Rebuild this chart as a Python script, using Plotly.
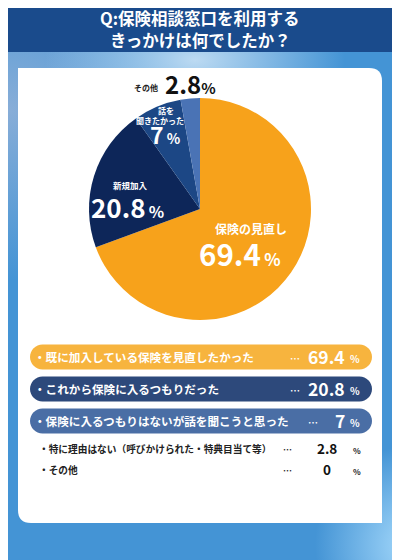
import base64
import plotly.graph_objects as go

W, H = 400, 560
OFF = 8  # page body margin; content is laid out in reference pixels
FONT = "Noto Sans CJK JP"

# --- data ---
title_lines = ["Q:保険相談窓口を利用する", "きっかけは何でしたか？"]

pie_labels = ["保険の見直し", "新規加入", "話を聞きたかった", "その他"]
pie_values = [69.4, 20.8, 7, 2.8]
pie_colors = ["#F7A21B", "#0D2659", "#1C4785", "#4A73B5"]

reasons = [
    "・既に加入している保険を見直したかった",
    "・これから保険に入るつもりだった",
    "・保険に入るつもりはないが話を聞こうと思った",
    "・特に理由はない（呼びかけられた・特典目当て等）",
    "・その他",
]
reason_values = [69.4, 20.8, 7, 2.8, 0]
pill_colors = ["#F7B43E", "#2D497B", "#4A6EA5"]


def fmt(v):
    return f"{v:g}"


# background gradient as a small inline svg
bg_svg = f"""<svg xmlns="http://www.w3.org/2000/svg" width="{W}" height="{H}" viewBox="{OFF} {OFF} {W} {H}" preserveAspectRatio="none">
<defs>
<radialGradient id="a" cx="195" cy="60" r="150" gradientUnits="userSpaceOnUse"
 gradientTransform="translate(195 60) scale(1 0.5) translate(-195 -60)">
<stop offset="0" stop-color="#bcdaf2"/><stop offset="1" stop-color="#bcdaf2" stop-opacity="0"/></radialGradient>
<radialGradient id="l" cx="10" cy="110" r="170" gradientUnits="userSpaceOnUse">
<stop offset="0" stop-color="#8fb0d8" stop-opacity="0.9"/><stop offset="1" stop-color="#8fb0d8" stop-opacity="0"/></radialGradient>
<radialGradient id="c" cx="415" cy="545" r="100" gradientUnits="userSpaceOnUse">
<stop offset="0" stop-color="#a9dcfd"/><stop offset="1" stop-color="#a9dcfd" stop-opacity="0"/></radialGradient>
</defs>
<rect x="0" y="0" width="{W + 2 * OFF}" height="{H + 2 * OFF}" fill="#4494d5"/>
<rect x="0" y="0" width="{W + 2 * OFF}" height="{H + 2 * OFF}" fill="url(#l)"/>
<rect x="0" y="0" width="{W + 2 * OFF}" height="{H + 2 * OFF}" fill="url(#a)"/>
<rect x="0" y="0" width="{W + 2 * OFF}" height="{H + 2 * OFF}" fill="url(#c)"/>
</svg>"""
bg_uri = "data:image/svg+xml;base64," + base64.b64encode(bg_svg.encode()).decode()


def pill(x0, x1, yc, h):
    r = h / 2
    k = 0.5523 * r
    return (f"M{x0 + r},{yc - r} L{x1 - r},{yc - r} "
            f"C{x1 - r + k},{yc - r} {x1},{yc - k} {x1},{yc} "
            f"C{x1},{yc + k} {x1 - r + k},{yc + r} {x1 - r},{yc + r} "
            f"L{x0 + r},{yc + r} "
            f"C{x0 + r - k},{yc + r} {x0},{yc + k} {x0},{yc} "
            f"C{x0},{yc - k} {x0 + r - k},{yc - r} {x0 + r},{yc - r} Z")


def card(x0, y0, x1, y1, r):
    # rounded top-right and bottom-left corners only
    return (f"M{x0},{y0} L{x1 - r},{y0} Q{x1},{y0} {x1},{y0 + r} "
            f"L{x1},{y1} L{x0 + r},{y1} Q{x0},{y1} {x0},{y1 - r} Z")


def txt(x, y, s, size, color="white", anchor="center"):
    return dict(x=x, y=y, xref="x", yref="y", text=s, showarrow=False,
                xanchor=anchor, yanchor="middle",
                font=dict(family=FONT, size=size, color=color))


def pct(v, psize, gap="\u2009"):
    return f"<b>{fmt(v)}</b><span style='font-size:{psize}px'>{gap}<b>%</b></span>"


fig = go.Figure()

# invisible anchor so the pixel-space axes exist
fig.add_trace(go.Scatter(x=[0, W], y=[0, H], mode="none",
                         hoverinfo="skip", showlegend=False))

# pie box in reference pixels: x 89..311, y 98..320
fig.add_trace(go.Pie(
    values=pie_values,
    labels=pie_labels,
    marker=dict(colors=pie_colors, line=dict(width=0)),
    sort=False,
    direction="clockwise",
    textinfo="none",
    hoverinfo="skip",
    showlegend=False,
    domain=dict(x=[(89 - OFF) / W, (311 - OFF) / W],
                y=[1 - (320 - OFF) / H, 1 - (98 - OFF) / H]),
))

shapes = [
    dict(type="rect", x0=0, x1=W + OFF, y0=0, y1=52, fillcolor="#1A4B8C",
         line=dict(width=0), layer="below"),
    dict(type="path", path=card(18, 68, 382, 523, 13), fillcolor="white",
         line=dict(width=0), layer="below"),
]
row_y = [357, 389, 421]
dots_x = [295, 295, 313]
for yc, col in zip(row_y, pill_colors):
    shapes.append(dict(type="path", path=pill(30, 372, yc, 25), fillcolor=col,
                       line=dict(width=0), layer="below"))

ann = [
    txt(200, 18, f"<b>{title_lines[0]}</b>", 16.5),
    txt(200, 40, f"<b>{title_lines[1]}</b>", 16.5),
]

# labels on the pie
ann += [
    txt(251, 228, f"<b>{pie_labels[0]}</b>", 12),
    txt(240, 253, pct(pie_values[0], 17), 29.5),
    txt(130, 184.5, f"<b>{pie_labels[1]}</b>", 8.5),
    txt(127, 206, pct(pie_values[1], 16), 26),
    txt(166, 110, f"<b>{pie_labels[2][:2]}</b>", 8),
    txt(160, 120, f"<b>{pie_labels[2][2:]}</b>", 8),
    txt(165.5, 133.5, pct(pie_values[2], 14, gap=" "), 23),
    txt(146, 87, f"<b>{pie_labels[3]}</b>", 8, "#222"),
    txt(190.5, 83.5, pct(pie_values[3], 15, gap=""), 24, "#111"),
]

# answer list
for i, yc in enumerate(row_y):
    ann += [
        txt(32, yc, f"<b>{reasons[i]}</b>", 11.6, anchor="left"),
        txt(dots_x[i], yc + 1, "<b>…</b>", 10),
        txt(347, yc - 1, f"<b>{fmt(reason_values[i])}</b>", 17.5, anchor="right"),
        txt(348, yc + 1, "<b>%</b>", 10, anchor="left"),
    ]
for i, yc in zip([3, 4], [449, 470]):
    ann += [
        txt(37, yc, f"<b>{reasons[i]}</b>", 9.7, "#222", anchor="left"),
        txt(287, yc, "<b>…</b>", 9, "#222"),
        txt(327, yc - 1, f"<b>{fmt(reason_values[i])}</b>", 13.5, "#111"),
        txt(357, yc + 1, "<b>%</b>", 8, "#222"),
    ]

fig.update_layout(
    width=W, height=H,
    margin=dict(l=0, r=0, t=0, b=0),
    paper_bgcolor="#4494d5",
    plot_bgcolor="rgba(0,0,0,0)",
    xaxis=dict(range=[OFF, W + OFF], visible=False, fixedrange=True, domain=[0, 1]),
    yaxis=dict(range=[H + OFF, OFF], visible=False, fixedrange=True, domain=[0, 1]),
    shapes=shapes,
    annotations=ann,
    images=[dict(source=bg_uri, xref="paper", yref="paper", x=0, y=1,
                 sizex=1, sizey=1, xanchor="left", yanchor="top",
                 sizing="stretch", layer="below")],
    font=dict(family=FONT),
)

fig.write_html("out.html")
